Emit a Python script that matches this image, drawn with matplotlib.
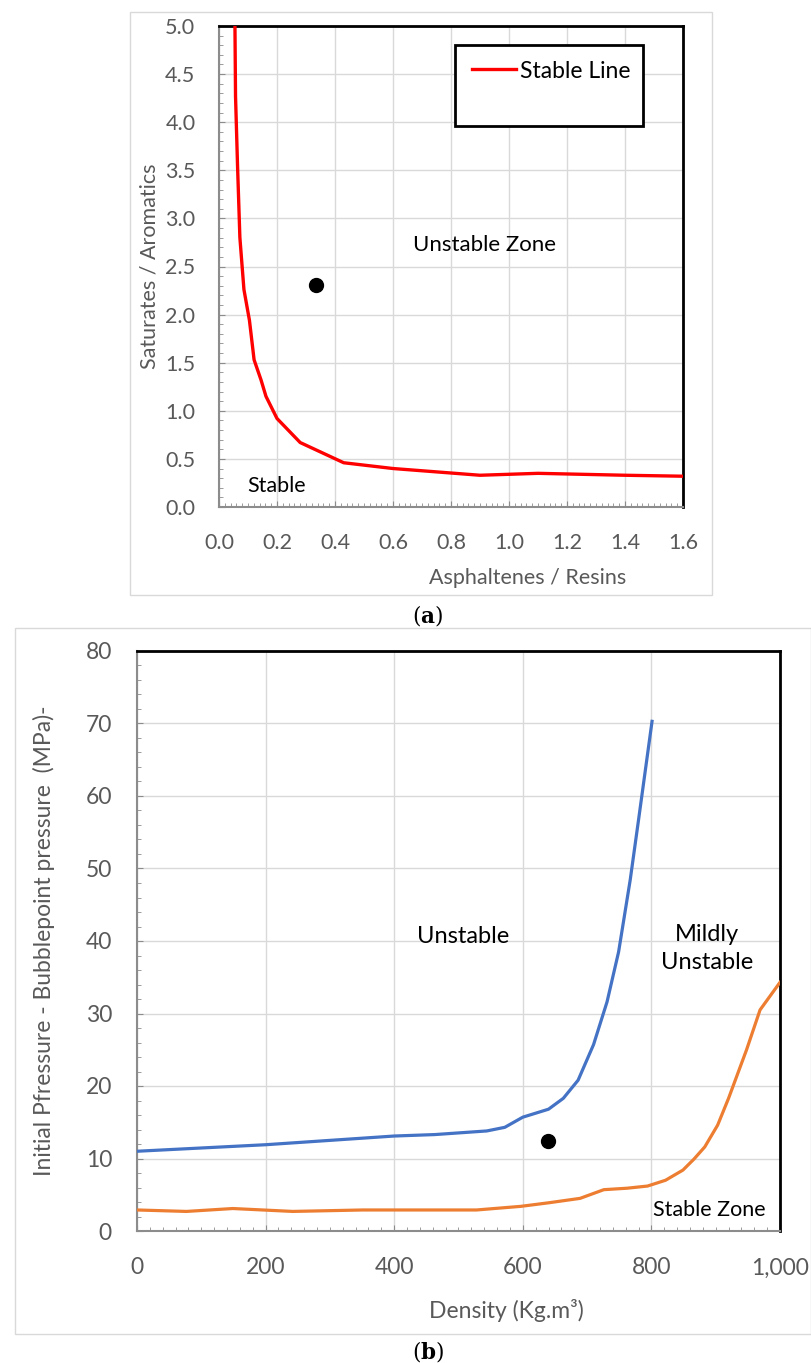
import matplotlib
matplotlib.use("Agg")
import matplotlib.pyplot as plt
from matplotlib.patches import Rectangle
from matplotlib.ticker import MultipleLocator, FuncFormatter

plt.rcParams['font.family'] = ['Lato', 'DejaVu Sans']
plt.rcParams['mathtext.fontset'] = 'dejavuserif'

# ---------- data panel (a) ----------
ar_x = [0.055, 0.057, 0.064, 0.072, 0.086, 0.105, 0.121, 0.145, 0.162, 0.20, 0.28,
        0.43, 0.60, 0.90, 1.10, 1.40, 1.60]
sa_y = [5.0, 4.27, 3.54, 2.80, 2.26, 1.94, 1.53, 1.32, 1.15, 0.92, 0.67,
        0.46, 0.40, 0.33, 0.35, 0.33, 0.32]
sample_a = (0.334, 2.31)
xticks_a = [0.0, 0.2, 0.4, 0.6, 0.8, 1.0, 1.2, 1.4, 1.6]
yticks_a = [0.0, 0.5, 1.0, 1.5, 2.0, 2.5, 3.0, 3.5, 4.0, 4.5, 5.0]

# ---------- data panel (b) ----------
blue_x = [0, 200, 400, 463, 544, 572, 600, 640, 663, 686, 710, 731, 749, 767, 780, 801]
blue_y = [11.0, 11.9, 13.1, 13.3, 13.8, 14.3, 15.7, 16.8, 18.3, 20.8, 25.7, 31.6,
          38.5, 48.4, 56.7, 70.3]
orange_x = [0, 77, 149, 242, 351, 528, 597, 641, 689, 726, 762, 794, 822, 849, 866,
            883, 903, 920, 948, 969, 1000]
orange_y = [2.9, 2.7, 3.1, 2.7, 2.9, 2.9, 3.4, 3.9, 4.5, 5.7, 5.9, 6.2, 7.0, 8.4,
            9.9, 11.6, 14.6, 18.3, 25.0, 30.5, 34.3]
sample_b = (639, 12.4)
xticks_b = [0, 200, 400, 600, 800, 1000]
yticks_b = [0, 10, 20, 30, 40, 50, 60, 70, 80]

W, H = 812, 1363
fig = plt.figure(figsize=(W / 100, H / 100), dpi=100)

def fx(px):
    return px / W

def fy(py):
    return 1 - py / H

GRAY_TXT = '#595959'
GRID = '#d9d9d9'

# panel frames
fig.patches.append(Rectangle((fx(130), fy(595)), fx(712) - fx(130), fy(12) - fy(595),
                             transform=fig.transFigure, fill=False, edgecolor=GRID, lw=1))
fig.patches.append(Rectangle((fx(15), fy(1334)), fx(811) - fx(15), fy(628) - fy(1334),
                             transform=fig.transFigure, fill=False, edgecolor=GRID, lw=1))


def style_axes(ax, tick_fs, xpad, ypad):
    ax.grid(True, which='major', color=GRID, lw=1)
    ax.set_axisbelow(True)
    for s in ['top', 'right']:
        ax.spines[s].set_color('black')
        ax.spines[s].set_linewidth(2.0)
    for s in ['left', 'bottom']:
        ax.spines[s].set_color('#8c8c8c')
        ax.spines[s].set_linewidth(1.5)
    ax.tick_params(which='both', direction='in', color='#8c8c8c', labelcolor=GRAY_TXT,
                   labelsize=tick_fs)
    ax.tick_params(which='major', length=4)
    ax.tick_params(which='minor', length=3)
    ax.tick_params(axis='x', which='major', pad=xpad)
    ax.tick_params(axis='y', which='major', pad=ypad)


# ---------- panel (a) ----------
axa = fig.add_axes([fx(219), fy(507), fx(683) - fx(219), fy(26) - fy(507)])
axa.set_xlim(0, 1.6)
axa.set_ylim(0, 5.0)
axa.set_xticks(xticks_a)
axa.set_yticks(yticks_a)
axa.xaxis.set_major_formatter(FuncFormatter(lambda v, p: f"{v:.1f}"))
axa.yaxis.set_major_formatter(FuncFormatter(lambda v, p: f"{v:.1f}"))
axa.xaxis.set_minor_locator(MultipleLocator(0.02))
axa.yaxis.set_minor_locator(MultipleLocator(0.1))
style_axes(axa, 15.5, 19, 17)
line_a, = axa.plot(ar_x, sa_y, color='#ff0000', lw=2.4, label='Stable Line', zorder=3)
axa.plot(*sample_a, 'o', color='black', ms=10, zorder=4)
axa.text(0.917, 2.72, 'Unstable Zone', fontsize=16, ha='center', va='center', color='black')
axa.text(0.097, 0.22, 'Stable', fontsize=15.5, ha='left', va='center', color='black')
axa.set_xlabel('Asphaltenes / Resins', fontsize=15.5, color=GRAY_TXT, va='center')
axa.xaxis.set_label_coords((528 - 219) / 464, (507 - 578) / 481)
axa.set_ylabel('Saturates / Aromatics', fontsize=15.5, color=GRAY_TXT, va='center')
axa.yaxis.set_label_coords((150 - 219) / 464, 0.5)
# legend box
axa.add_patch(Rectangle((fx(455), fy(126)), fx(643) - fx(455), fy(45) - fy(126),
                        transform=fig.transFigure, fill=True, facecolor='white',
                        edgecolor='black', lw=2.0, zorder=5, clip_on=False))
leg = axa.legend(handles=[line_a], loc='center left', frameon=False, fontsize=16.5,
                 bbox_to_anchor=(fx(472), fy(71)), bbox_transform=fig.transFigure,
                 handlelength=1.9, handletextpad=0.2, borderpad=0, borderaxespad=0)
leg.set_zorder(6)
fig.text(fx(428), fy(616), r'($\mathbf{a}$)', fontsize=15.5, ha='center', va='center',
         family='DejaVu Serif')

# ---------- panel (b) ----------
axb = fig.add_axes([fx(137), fy(1231), fx(780) - fx(137), fy(651) - fy(1231)])
axb.set_xlim(0, 1000)
axb.set_ylim(0, 80)
axb.set_xticks(xticks_b)
axb.set_yticks(yticks_b)
axb.xaxis.set_major_formatter(FuncFormatter(lambda v, p: f"{int(v):,}"))
axb.xaxis.set_minor_locator(MultipleLocator(20))
axb.yaxis.set_minor_locator(MultipleLocator(2))
style_axes(axb, 16.5, 19, 18)
axb.plot(blue_x, blue_y, color='#4472c4', lw=2.3, zorder=3)
axb.plot(orange_x, orange_y, color='#ed7d31', lw=2.3, zorder=3)
axb.plot(*sample_b, 'o', color='black', ms=10, zorder=4)
axb.text(507, 40.6, 'Unstable', fontsize=17, ha='center', va='center', color='black')
axb.text(886, 39.0, 'Mildly\nUnstable', fontsize=17, ha='center', va='center',
         color='black', linespacing=1.4)
axb.text(977, 2.9, 'Stable Zone', fontsize=15.5, ha='right', va='center', color='black')
axb.set_xlabel('Density (Kg.m³)', fontsize=16.5, color=GRAY_TXT, va='center')
axb.xaxis.set_label_coords((506 - 137) / 643, (1231 - 1310) / 580)
axb.set_ylabel('Initial Pfressure - Bubblepoint pressure  (MPa)-', fontsize=16.5,
               color=GRAY_TXT, va='center')
axb.yaxis.set_label_coords((44 - 137) / 643, 0.5)
fig.text(fx(428), fy(1352), r'($\mathbf{b}$)', fontsize=15.5, ha='center', va='center',
         family='DejaVu Serif')

fig.savefig('out.png', dpi=100)
